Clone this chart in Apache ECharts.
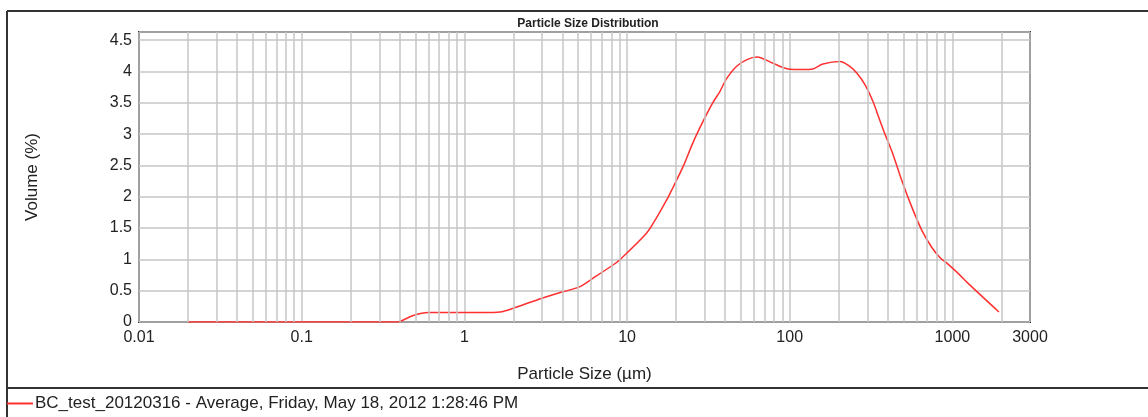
<!DOCTYPE html>
<html>
<head>
<meta charset="utf-8">
<script src="https://cdn.jsdelivr.net/npm/echarts@6/dist/echarts.min.js"></script>
<style>
  html, body { margin: 0; padding: 0; background: #fff; }
  #chart { width: 1148px; height: 417px; }
</style>
</head>
<body>
<div id="chart"></div>
<script>
// 粒径分布：横轴对数（µm），纵轴体积百分比
const sizes = [0.02, 0.05, 0.1, 0.2, 0.3, 0.385, 0.48, 0.6, 0.8, 1.0, 1.3, 1.66, 2.0, 3.0, 4.0, 5.1, 6.1, 8.2, 9.0,
  13.2, 15.3, 17.8, 19.1, 22.1, 25.4, 28.9, 33.3, 37.2, 41, 47, 54.6, 63, 79, 97.5, 120, 139, 160, 204, 234, 259, 290,
  325, 358, 385, 431, 490, 564, 650, 748, 838, 925, 1081, 1245, 1932];
const volumes = [0, 0, 0, 0, 0, 0, 0.10, 0.15, 0.15, 0.15, 0.15, 0.16, 0.22, 0.38, 0.48, 0.56, 0.69, 0.91, 0.99,
  1.42, 1.68, 1.98, 2.14, 2.48, 2.86, 3.17, 3.48, 3.68, 3.89, 4.08, 4.19, 4.23, 4.13, 4.04, 4.03, 4.04, 4.12, 4.16, 4.08, 3.97, 3.79,
  3.52, 3.22, 3.0, 2.68, 2.25, 1.83, 1.46, 1.19, 1.03, 0.94, 0.78, 0.62, 0.16];
const xDecades = [0.01, 0.1, 1, 10, 100, 1000];
const seriesName = 'BC_test_20120316 - Average, Friday, May 18, 2012 1:28:46 PM';

const FONT = '"Liberation Sans", Arial, sans-serif';
const GRID_COLOR = '#c6c6c6';

// 对数轴的次网格线（2..9 × 每个十进位）
const minorLines = [];
xDecades.forEach(d => {
  for (let k = 2; k <= 9; k++) {
    const v = +(k * d).toPrecision(3);
    if (v < 3000) minorLines.push({ xAxis: v });
  }
});

const chart = echarts.init(document.getElementById('chart'), null, { renderer: 'canvas' });
chart.setOption({
  animation: false,
  backgroundColor: '#fff',
  title: {
    text: 'Particle Size Distribution',
    left: 583, top: 13, textAlign: 'center',
    textStyle: { fontFamily: FONT, fontSize: 12, fontWeight: 'bold', color: '#222' },
  },
  legend: {
    data: [seriesName],
    left: 7, top: 395, padding: 0,
    icon: 'rect', itemWidth: 26, itemHeight: 2, itemGap: 0,
    textStyle: { fontFamily: FONT, fontSize: 17, color: '#222', padding: [0, 0, 0, -3] },
  },
  grid: {
    left: 139, right: 118, top: 32, bottom: 95,
    show: true, borderColor: '#333', borderWidth: 2, backgroundColor: '#fff',
  },
  xAxis: {
    type: 'log', logBase: 10, min: 0.01, max: 3000,
    name: 'Particle Size (µm)', nameLocation: 'middle', nameGap: 44,
    nameTextStyle: { fontFamily: FONT, fontSize: 17, color: '#222' },
    axisLine: { show: false }, axisTick: { show: false },
    axisLabel: {
      fontFamily: FONT, fontSize: 16, color: '#222', margin: 8,
      formatter: v => (v < 1 ? String(+v.toPrecision(1)) : String(Math.round(v))),
    },
    splitLine: { show: true, lineStyle: { color: GRID_COLOR, width: 1.5 } },
  },
  yAxis: {
    type: 'value', min: 0, max: 4.63, interval: 0.5,
    name: 'Volume (%)', nameLocation: 'middle', nameGap: 98,
    nameTextStyle: { fontFamily: FONT, fontSize: 17, color: '#222' },
    axisLine: { show: false }, axisTick: { show: false },
    axisLabel: { fontFamily: FONT, fontSize: 16, color: '#222', margin: 7, showMaxLabel: false },
    splitLine: { show: true, lineStyle: { color: GRID_COLOR, width: 1.5 } },
  },
  graphic: [
    { type: 'line', shape: { x1: 7, y1: 11, x2: 1148, y2: 11 }, style: { stroke: '#333', lineWidth: 2 } },
    { type: 'line', shape: { x1: 7, y1: 11, x2: 7, y2: 417 }, style: { stroke: '#333', lineWidth: 2 } },
    { type: 'line', shape: { x1: 7, y1: 388, x2: 1148, y2: 388 }, style: { stroke: '#333', lineWidth: 2 } },
  ],
  series: [
    {
      // 只承载次网格线
      name: 'minor-grid', type: 'line', data: [], z: 1, silent: true,
      markLine: {
        silent: true, symbol: 'none', animation: false,
        label: { show: false },
        lineStyle: { type: 'solid', color: GRID_COLOR, width: 1.5 },
        data: minorLines,
      },
    },
    {
      name: seriesName, type: 'line', z: 3,
      data: sizes.map((s, i) => [s, volumes[i]]),
      showSymbol: false, smooth: 0.3,
      itemStyle: { color: '#ff3030' },
      lineStyle: { color: '#ff3030', width: 1.5 },
    },
  ],
});
</script>
</body>
</html>
